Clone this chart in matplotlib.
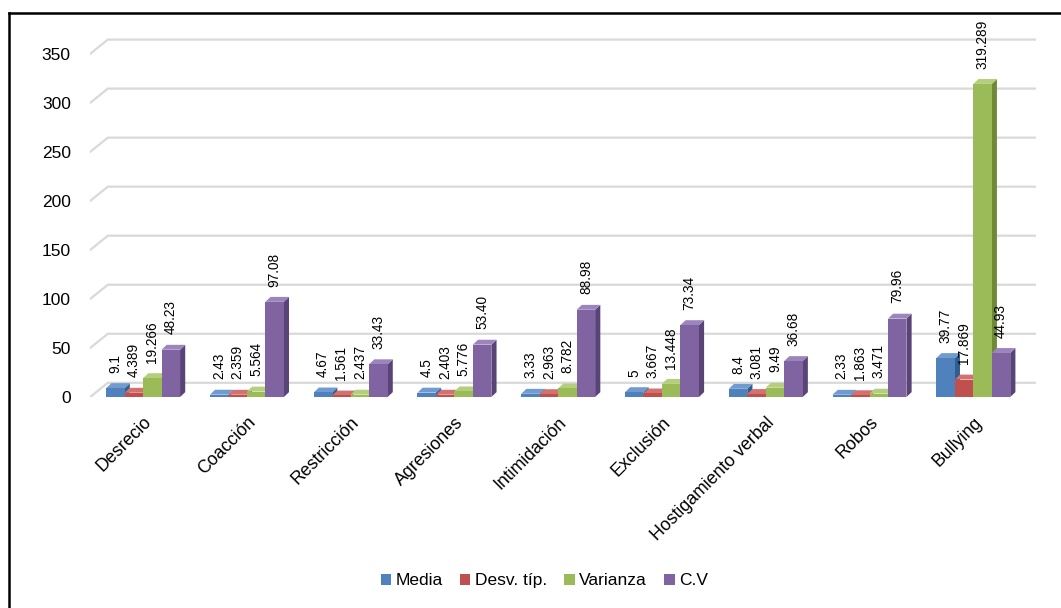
import numpy as np
import matplotlib
matplotlib.use('Agg')
import matplotlib.pyplot as plt
from matplotlib.patches import Polygon, Rectangle, Patch
from matplotlib.lines import Line2D

plt.rcParams['font.family'] = ['Liberation Sans', 'DejaVu Sans']

categories = ['Desrecio', 'Coacción', 'Restricción', 'Agresiones', 'Intimidación',
              'Exclusión', 'Hostigamiento verbal', 'Robos', 'Bullying']
series_names = ['Media', 'Desv. típ.', 'Varianza', 'C.V']
media = [9.1, 2.43, 4.67, 4.5, 3.33, 5, 8.4, 2.33, 39.77]
desv = [4.389, 2.359, 1.561, 2.403, 2.963, 3.667, 3.081, 1.863, 17.869]
varianza = [19.266, 5.564, 2.437, 5.776, 8.782, 13.448, 9.49, 3.471, 319.289]
cv = [48.23, 97.08, 33.43, 53.40, 88.98, 73.34, 36.68, 79.96, 44.93]
cv_labels = ['48.23', '97.08', '33.43', '53.40', '88.98', '73.34', '36.68', '79.96', '44.93']
yticks = [0, 50, 100, 150, 200, 250, 300, 350]

front = ['#4F81BD', '#C0504D', '#9BBB59', '#8064A2']
side = ['#2F5E91', '#8E2F2C', '#6E8A38', '#584476']
top = ['#6F9BD0', '#D2716E', '#B4CF7C', '#9C84BC']

fig = plt.figure(figsize=(10.61, 6.08), dpi=100)
ax = fig.add_axes([0.085, 0.347, 0.891, 0.6])
ax.set_xlim(-0.51, 8.6)
ax.set_ylim(0, 372)
for s in ax.spines.values():
    s.set_visible(False)

# 3d-ish gridlines (back wall + slanted floor edge)
gdx, gdy = 0.17, 14.5
x0 = -0.51
for t in yticks:
    ax.plot([x0, x0 + gdx, 8.6], [t, t + gdy, t + gdy], color='#D9D9D9', lw=1.6, zorder=0)

ax.set_yticks(yticks)
ax.tick_params(axis='y', length=0, pad=14, labelsize=12.5)
ax.set_xticks(range(len(categories)))
ax.set_xticklabels(categories, rotation=45, ha='right', va='top', rotation_mode='anchor',
                   fontsize=12.8)
ax.tick_params(axis='x', length=0, pad=12)

all_vals = [media, desv, varianza, cv]
all_labels = [[str(v) for v in media], [str(v) for v in desv],
              [str(v) for v in varianza], cv_labels]
w = 0.178
dx, dy = 0.05, 5.0
z = 2
for c in range(len(categories)):
    for i in range(4):
        h = all_vals[i][c]
        xl = c + (i - 2) * w
        xr = xl + w
        ax.add_patch(Polygon([(xr, 0), (xr + dx, dy), (xr + dx, h + dy), (xr, h)],
                             closed=True, facecolor=side[i], edgecolor='none', zorder=z))
        ax.add_patch(Polygon([(xl, h), (xl + dx, h + dy), (xr + dx, h + dy), (xr, h)],
                             closed=True, facecolor=top[i], edgecolor='none', zorder=z))
        ax.add_patch(Rectangle((xl, 0), w, h, facecolor=front[i], edgecolor='none', zorder=z + 1))
        z += 2
        ax.annotate(all_labels[i][c], (xl + w / 2, h), xytext=(0, 11), textcoords='offset points',
                    rotation=90, ha='center', va='bottom', fontsize=9.8, zorder=100,
                    annotation_clip=False)

handles = [Patch(facecolor=front[i], edgecolor='none') for i in range(4)]
fig.legend(handles, series_names, loc='center', bbox_to_anchor=(0.513, 0.045), ncol=4,
           frameon=False, fontsize=12.5, handlelength=0.6, handleheight=0.6,
           handletextpad=0.25, columnspacing=1.0)

# chart frame (left and top edges)
fig.add_artist(Line2D([0.0085, 0.0085], [0.0, 0.979], color='black', lw=1.8))
fig.add_artist(Line2D([0.0085, 1.0], [0.979, 0.979], color='black', lw=1.8))

fig.savefig('out.png', dpi=100)
